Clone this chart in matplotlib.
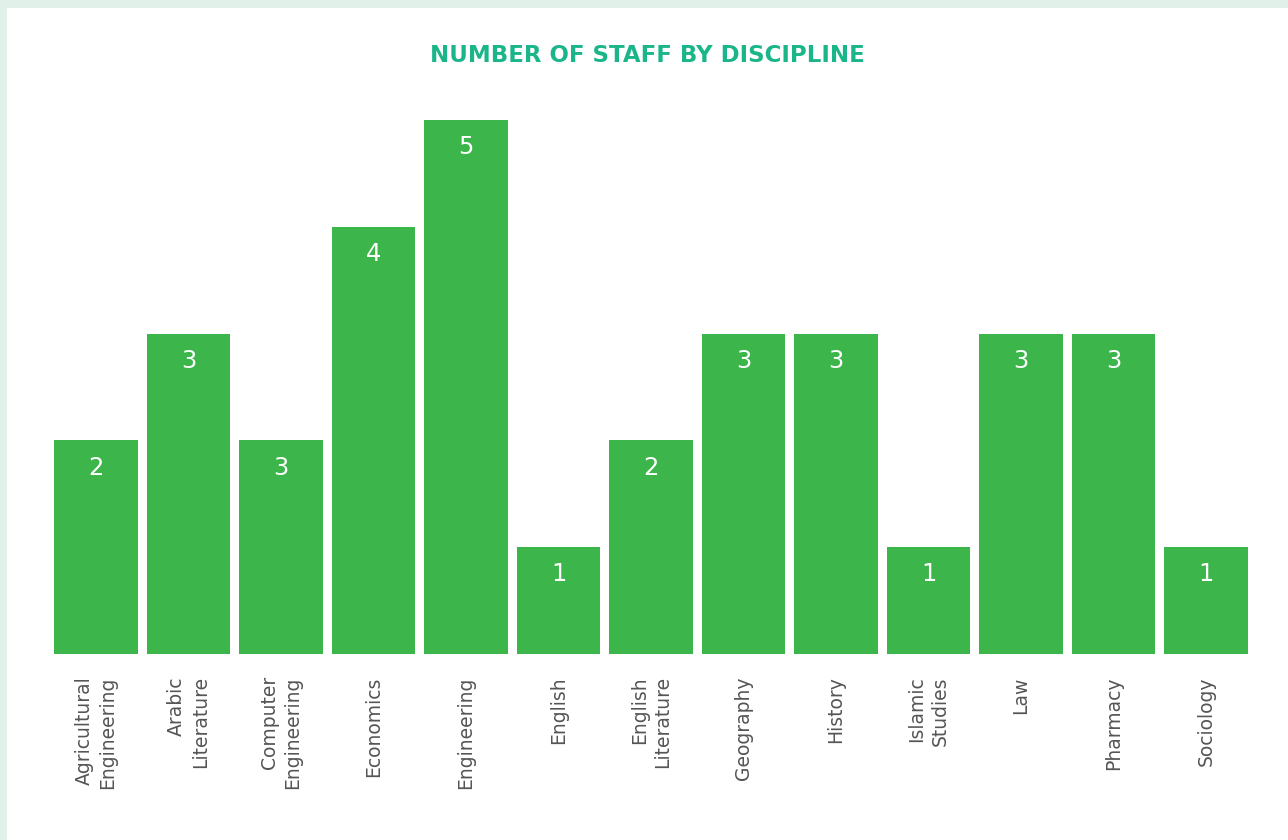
import matplotlib
matplotlib.use("Agg")
import matplotlib.pyplot as plt
from matplotlib.patches import Rectangle

categories = ["Agricultural\nEngineering", "Arabic\nLiterature", "Computer\nEngineering",
              "Economics", "Engineering", "English", "English\nLiterature", "Geography",
              "History", "Islamic\nStudies", "Law", "Pharmacy", "Sociology"]
bar_values = [2, 3, 2, 4, 5, 1, 2, 3, 3, 1, 3, 3, 1]
value_labels = ["2", "3", "3", "4", "5", "1", "2", "3", "3", "1", "3", "3", "1"]
title = "NUMBER OF STAFF BY DISCIPLINE"

W, H = 1288, 840
fig = plt.figure(figsize=(W / 100, H / 100), dpi=100)
fig.patch.set_facecolor("#e1f1ea")
fig.patches.append(Rectangle((7 / W, 0), 1 - 7 / W, 1 - 8 / H, transform=fig.transFigure,
                             facecolor="white", edgecolor="none", zorder=-5))

left, right = 49.75, 1252.25
top, base = 120, 654
ax = fig.add_axes([left / W, (H - base) / H, (right - left) / W, (base - top) / H])
ax.set_zorder(2)
ax.set_facecolor("none")

x = list(range(len(categories)))
bars = ax.bar(x, bar_values, width=0.908, color="#3cb54a", zorder=2)
ax.set_xlim(-0.5, len(categories) - 0.5)
ax.set_ylim(0, 5)

for b, lab in zip(bars, value_labels):
    ax.annotate(lab, (b.get_x() + b.get_width() / 2, b.get_height()),
                xytext=(0, -11), textcoords="offset points", ha="center", va="top",
                color="white", fontsize=17.5)

ax.set_xticks(x)
ax.set_xticklabels(categories, rotation=90, fontsize=13.5, color="#555555",
                   multialignment="right", linespacing=1.3)
ax.tick_params(axis="x", length=0, pad=16)
ax.set_yticks([])
for s in ax.spines.values():
    s.set_visible(False)

fig.text(0.5 + 7 / W / 2, 1 - 55 / H, title, ha="center", va="center",
         color="#1ab68a", fontsize=16.5, fontweight="bold", zorder=3)

fig.savefig("out.png", dpi=100, facecolor=fig.get_facecolor())
